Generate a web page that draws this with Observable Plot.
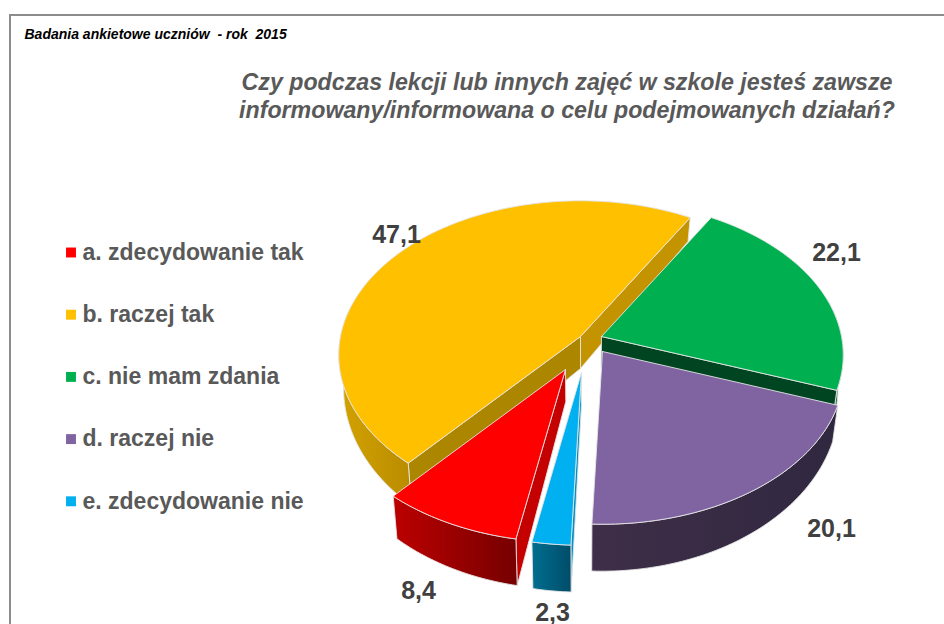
<!DOCTYPE html>
<html><head><meta charset="utf-8">
<style>html,body{margin:0;padding:0;background:#fff}svg{display:block}</style>
<script src="https://cdn.jsdelivr.net/npm/d3@7"></script>
<script src="https://cdn.jsdelivr.net/npm/@observablehq/plot@0.6"></script>
</head><body><div id="chart"></div>
<script>
// --- data ---
const categories = ["a. zdecydowanie tak","b. raczej tak","c. nie mam zdania","d. raczej nie","e. zdecydowanie nie"];
const shares = [8.4,47.1,22.1,20.1,2.3];
const valueLabels = ["8,4","47,1","22,1","20,1","2,3"];
const sourceNote = "Badania ankietowe uczniów  - rok  2015";
const titleLines = ["Czy podczas lekcji lub innych zajęć w szkole jesteś zawsze","informowany/informowana o celu podejmowanych działań?"];

// --- styling and layout ---
const topColors = ["#ff0000","#ffc000","#00b050","#8064a2","#00b0f0"];
const tips = [[565,369],[580,336],[601,336],[602,351],[581,372]];
const labelAt = [[418,590],[396,234],[836,252],[831,528],[552,612]];
const startDeg = 190.5, R = 240, Ry = 152, P = 0.12, H = 32, xc = 580;
const edge = "#e4e4e4";

// cumulative angles, clockwise from the top of the pie
const total = d3.sum(shares);
let acc = startDeg;
const spans = shares.map(v => { const a = acc; acc += v / total * 360; return [a, acc]; });

const proj = (i, deg, low) => {
  const t = deg * Math.PI / 180, X = Math.sin(t), Y = -Math.cos(t), s = 1 / (1 - P * Y);
  const x = tips[i][0] + R * X * s, y = tips[i][1] + Ry * Y * s;
  return low ? {x: xc + (x - xc) * 0.98, y: y + H * s * s * s} : {x, y};
};
const tip = (i, low) => low ? {x: xc + (tips[i][0] - xc) * 0.98, y: tips[i][1] + H} : {x: tips[i][0], y: tips[i][1]};
const arc = (i, a, b, low) => d3.range(0, 1.0001, 1 / Math.max(2, Math.ceil(b - a))).map(f => proj(i, a + (b - a) * f, low));
const closed = pts => [...pts, pts[0]];
const poly = (pts, fill, strokeWidth = 0.9) => Plot.line(closed(pts), {x: "x", y: "y", fill, stroke: edge, strokeWidth, strokeLinejoin: "round"});
const topFace = i => poly([tip(i), ...arc(i, spans[i][0], spans[i][1])], topColors[i]);
const wall = (i, deg, fill) => poly([tip(i), proj(i, deg), proj(i, deg, true), tip(i, true)], fill);
const rim = (i, a, b, fill) => poly([...arc(i, a, b), ...arc(i, a, b, true).reverse()], fill);

const defs = () => {
  const d = d3.create("svg:defs");
  [["gGold","#d3a200","#b98c00"],["gRed","#bc0000","#760000"],["gBlue","#006f90","#004c69"],["gPurple","#3f2e48","#302840"],["gGreen","#1f5a35","#2c6b42"]]
    .forEach(([id,a,b]) => {
      const g = d.append("linearGradient").attr("id", id);
      g.append("stop").attr("offset","0").attr("stop-color",a);
      g.append("stop").attr("offset","1").attr("stop-color",b);
    });
  return d.node();
};

const [a,b,c,d_,e] = [0,1,2,3,4];
const marks = [
  defs,
  // frame
  Plot.ruleY([14.5], {x1: 9, x2: 944, stroke: "#8c8c8c", strokeWidth: 2}),
  Plot.ruleX([9.5], {y1: 14, y2: 624, stroke: "#8c8c8c", strokeWidth: 2}),
  // gold
  wall(b, spans[b][1], "#c49400"),
  wall(b, spans[b][0], "#ad8600"),
  rim(b, spans[b][0], 282, "url(#gGold)"),
  topFace(b),
  // green
  rim(c, 75, spans[c][1] - 360, "url(#gGreen)"),
  wall(c, spans[c][1], "#004522"),
  topFace(c),
  // purple
  rim(d_, spans[d_][0], spans[d_][1], "url(#gPurple)"),
  topFace(d_),
  // red
  wall(a, spans[a][0], "#c40000"),
  rim(a, spans[a][0], spans[a][1], "url(#gRed)"),
  topFace(a),
  // blue
  wall(e, spans[e][0], "#0090c8"),
  rim(e, spans[e][0], spans[e][1], "url(#gBlue)"),
  topFace(e),
  // value labels
  Plot.text(valueLabels, {x: (_, i) => labelAt[i][0], y: (_, i) => labelAt[i][1], text: d => d, fontSize: 25, fontWeight: "bold", fill: "#404040"}),
  // legend
  Plot.dot(categories, {x: () => 70.5, y: (_, i) => 252 + i * 62.2, symbol: "square", r: 5.6, fill: (_, i) => topColors[i], stroke: "none"}),
  Plot.text(categories, {x: () => 82, y: (_, i) => 252 + i * 62.2, text: d => d, textAnchor: "start", fontSize: 23, fontWeight: "bold", fill: "#595959"}),
  // titles
  Plot.text([sourceNote], {x: () => 24, y: () => 34, text: d => d, textAnchor: "start", fontSize: 14, fontWeight: "bold", fontStyle: "italic", fill: "#000"}),
  Plot.text(titleLines, {x: () => 566.5, y: (_, i) => 82 + i * 28, text: d => d, fontSize: 23.2, fontWeight: "bold", fontStyle: "italic", fill: "#595959"})
];

const chart = Plot.plot({
  width: 944, height: 624, margin: 0,
  x: {domain: [0, 944], range: [0, 944], axis: null},
  y: {domain: [0, 624], range: [0, 624], axis: null},
  color: {type: "identity"},
  style: {background: "#fff", fontFamily: "'Liberation Sans', Arial, sans-serif", overflow: "hidden"},
  marks
});
document.getElementById("chart").append(chart);
</script></body></html>
